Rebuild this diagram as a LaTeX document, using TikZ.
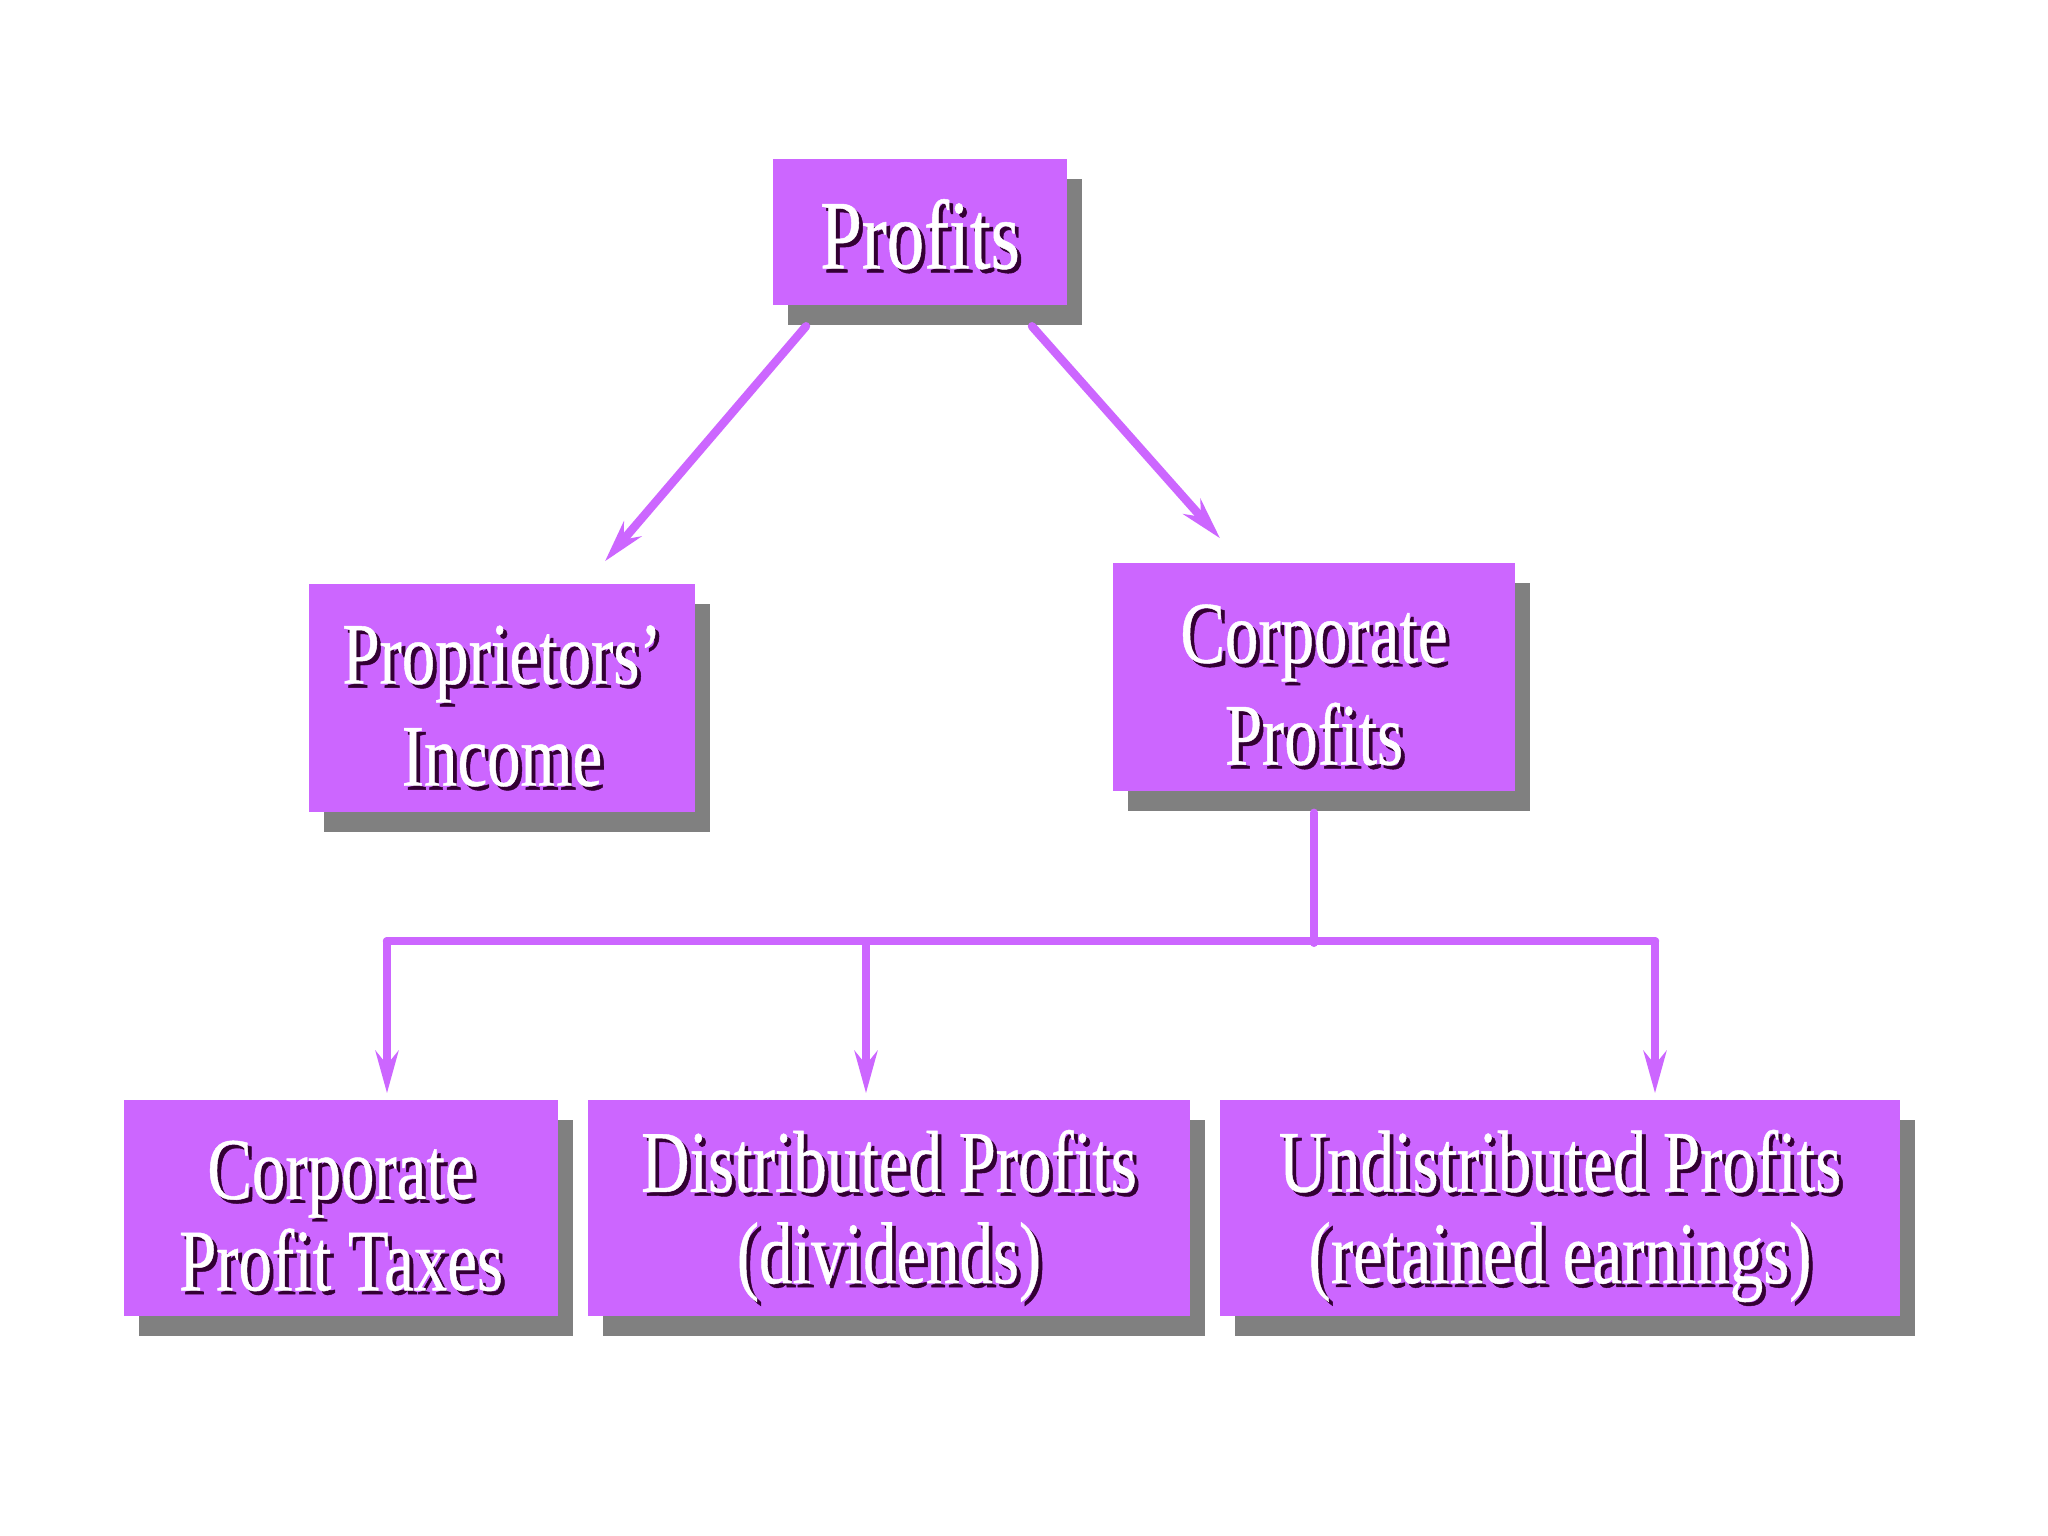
\documentclass[tikz,border=0pt]{standalone}
\usepackage{fontspec}
\setmainfont{Liberation Serif}[FakeStretch=0.76, FakeBold=0.5]
\usetikzlibrary{calc,shadows,arrows.meta}

\definecolor{boxviolet}{RGB}{204,102,255}
\definecolor{lineviolet}{RGB}{204,102,255}
\definecolor{txtshade}{RGB}{51,0,51}
\definecolor{boxshade}{RGB}{128,128,128}

\newcommand\shtxt[2][2.8pt]{\raisebox{-#1}[\height][\depth]{\rlap{\kern1.1pt\raisebox{-1.1pt}{\color{txtshade}#2}}#2}}

\begin{document}
\begin{tikzpicture}[x=0.01cm,y=-0.01cm,
  box/.style={fill=boxviolet, text=white, align=center, inner sep=0pt,
    drop shadow={shadow xshift=0.15cm, shadow yshift=-0.2cm, fill=boxshade, opacity=1}},
  midbox/.style={box, minimum height=2.28cm, font=\fontsize{25}{29}\selectfont},
  lowbox/.style={box, minimum height=2.16cm, font=\fontsize{25}{26}\selectfont},
  link/.style={lineviolet, line width=2.4pt, line cap=round},
  arr/.style={link, -{Stealth[length=12pt,width=6.5pt]}}]
\useasboundingbox[fill=white] (0,0) rectangle (2048,1536);

% boxes
\node[box, minimum width=2.94cm, minimum height=1.45cm,
  font=\fontsize{28}{30}\selectfont] (prof) at (920,232) {\shtxt[1.2pt]{Profits}};
\node[midbox, minimum width=3.85cm] (prop) at (502,698) {\shtxt{Proprietors'}\\\shtxt{Income}};
\node[midbox, minimum width=4.02cm] (corp) at (1314,677) {\shtxt{Corporate}\\\shtxt{Profits}};
\node[lowbox, minimum width=4.34cm] (tax) at (341,1208) {\shtxt{Corporate}\\\shtxt{Profit Taxes}};
\node[lowbox, minimum width=6.02cm] (dist) at (889,1208) {\shtxt{Distributed Profits}\\\shtxt{(dividends)}};
\node[lowbox, minimum width=6.79cm] (undist) at (1560,1208) {\shtxt{Undistributed Profits}\\\shtxt{(retained earnings)}};

% arrows
\draw[arr] ($(prof.south)+(-114,21)$) -- ($(prop.north)+(103,-22)$);
\draw[arr] ($(prof.south)+(112,21)$) -- ($(corp.north)+(-94,-24)$);

\coordinate (hub) at ($(corp.south)+(0,151)$);
\draw[link] ($(corp.south)+(0,21)$) -- (hub);
\coordinate (j1) at ($(tax.north)+(46,-158)$);
\coordinate (j2) at ($(dist.north)+(-23,-158)$);
\coordinate (j3) at ($(undist.north)+(95,-158)$);
\draw[link] (j1) -- (j3);
\foreach \j/\n in {j1/tax,j2/dist,j3/undist}
  \draw[arr, shorten >=0.06cm] (\j) -- (\j |- \n.north);

\end{tikzpicture}
\end{document}
